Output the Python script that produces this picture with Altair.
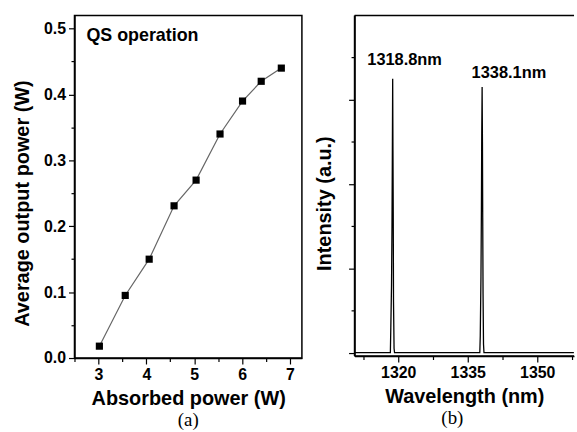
import altair as alt
import pandas as pd

# (a) Q-switched output power versus absorbed pump power
absorbed = [3.02, 3.56, 4.06, 4.58, 5.04, 5.54, 6.01, 6.40, 6.82]
output = [0.018, 0.095, 0.150, 0.231, 0.270, 0.340, 0.390, 0.420, 0.440]

# (b) emission spectrum, two lines
wavelength = [1310.6, 1318.3, 1318.4, 1318.55, 1318.65, 1318.72, 1318.8, 1318.86,
              1318.92, 1318.98, 1319.1, 1319.2, 1337.6, 1337.7, 1337.85, 1337.95,
              1338.02, 1338.1, 1338.17, 1338.23, 1338.3, 1338.4, 1338.5, 1357.9]
intensity = [0, 0, 0.6, 1.6, 3.0, 4.5, 6.5, 4.8, 3.3, 1.2, 0.1, 0,
             0, 0.4, 1.8, 3.5, 5.2, 6.3, 5.0, 3.2, 1.4, 0.2, 0, 0]

peak_wl = [1318.8, 1338.1]
peak_int = [6.5, 6.3]
peak_text = ["1318.8nm", "1338.1nm"]

x_ticks_a = [2.5, 3, 3.5, 4, 4.5, 5, 5.5, 6, 6.5, 7]
y_ticks_a = [0, 0.05, 0.1, 0.15, 0.2, 0.25, 0.3, 0.35, 0.4, 0.45, 0.5]
x_ticks_b = [1312.5, 1320, 1327.5, 1335, 1342.5, 1350, 1357.5]
y_ticks_b = [0, 1, 2, 3, 4, 5, 6, 7]

# axis ranges of panel (b)
XB_MIN, XB_MAX = 1310.57, 1357.93
YB_MIN, YB_MAX = -0.08, 8.0

SANS = "Liberation Sans"
SERIF = "Liberation Serif"


def tick_len(test):
    return {"condition": {"test": test, "value": 6}, "value": 3.5}


power_df = pd.DataFrame({"absorbed": absorbed, "output": output})
spec_df = pd.DataFrame({"wavelength": wavelength, "intensity": intensity})
peaks_df = pd.DataFrame({"wavelength": peak_wl, "intensity": peak_int, "text": peak_text})

# ---- panel (a) ----
xa_major = "datum.value % 1 === 0"
ya_major = "round(datum.value * 20) % 2 === 0"

xa = alt.X(
    "absorbed:Q",
    scale=alt.Scale(domain=[2.5, 7.25], nice=False, zero=False),
    axis=alt.Axis(values=x_ticks_a, format=".0f",
                  labelExpr=f"{xa_major} ? datum.label : ''",
                  tickSize=tick_len(xa_major),
                  title="Absorbed power (W)", titlePadding=6),
)
ya = alt.Y(
    "output:Q",
    scale=alt.Scale(domain=[0, 0.52], nice=False),
    axis=alt.Axis(values=y_ticks_a, format=".1f",
                  labelExpr=f"{ya_major} ? datum.label : ''",
                  tickSize=tick_len(ya_major),
                  title="Average output power (W)", titleLimit=400,
                  titleX=-52, titleY=189, titleAngle=-90,
                  titleAlign="center", titleBaseline="middle"),
)

base_a = alt.Chart(power_df)
line_a = base_a.mark_line(color="#666666", strokeWidth=1.2).encode(x=xa, y=ya)
pts_a = base_a.mark_square(size=52, color="black", opacity=1).encode(x=xa, y=ya)
label_a = alt.Chart(pd.DataFrame({"t": ["QS operation"]})).mark_text(
    font=SANS, fontSize=18, fontWeight="bold", align="left", baseline="middle", color="black"
).encode(x=alt.value(12), y=alt.value(21), text="t:N")

panel_a = alt.layer(line_a, pts_a, label_a).properties(
    width=229, height=345,
    view=alt.ViewBackground(stroke="black", strokeWidth=1.5),
    title=alt.TitleParams("(a)", orient="bottom", font=SERIF, fontSize=19,
                          fontWeight="normal", color="black", offset=2, anchor="middle"),
)

# ---- panel (b) ----
xb_major = "datum.value % 15 === 0"
yb_major = "datum.value % 2 === 0"
xb_scale = alt.Scale(domain=[XB_MIN, XB_MAX], nice=False, zero=False)
yb_scale = alt.Scale(domain=[YB_MIN, YB_MAX], nice=False)

xb = alt.X(
    "wavelength:Q", scale=xb_scale,
    axis=alt.Axis(values=x_ticks_b, format=".0f",
                  labelExpr=f"{xb_major} ? datum.label : ''",
                  tickSize=tick_len(xb_major),
                  title="Wavelength (nm)", titlePadding=6),
)
yb = alt.Y(
    "intensity:Q", scale=yb_scale,
    axis=alt.Axis(values=y_ticks_b, labels=False,
                  tickSize=tick_len(yb_major),
                  title="Intensity (a.u.)", titleLimit=400,
                  titleX=-30.5, titleY=189, titleAngle=-90,
                  titleAlign="center", titleBaseline="middle"),
)

spec_line = alt.Chart(spec_df).mark_line(color="black", strokeWidth=1.3).encode(x=xb, y=yb)

peak_style = dict(font=SANS, fontSize=16.5, fontWeight="bold", baseline="middle", color="black")
px = alt.X("wavelength:Q", scale=xb_scale, axis=None)
py = alt.Y("intensity:Q", scale=yb_scale, axis=None)
peak1 = alt.Chart(peaks_df.iloc[[0]]).mark_text(dx=12, dy=-19, **peak_style).encode(
    x=px, y=py, text="text:N")
peak2 = alt.Chart(peaks_df.iloc[[1]]).mark_text(dx=27, dy=-14, **peak_style).encode(
    x=px, y=py, text="text:N")

# open frame of panel (b): left, bottom and top sides at the axis limits
one_row = pd.DataFrame({"edge": [0]})
frame_style = dict(color="black", strokeWidth=1.5)


def xd(v):
    return alt.XDatum(v, type="quantitative", scale=xb_scale, axis=None)


def yd(v):
    return alt.YDatum(v, type="quantitative", scale=yb_scale, axis=None)


left_side = alt.Chart(one_row).mark_rule(**frame_style).encode(
    x=xd(XB_MIN), y=yd(YB_MIN), y2=alt.Y2Datum(YB_MAX))
bottom_side = alt.Chart(one_row).mark_rule(**frame_style).encode(
    x=xd(XB_MIN), x2=alt.X2Datum(XB_MAX), y=yd(YB_MIN))
top_side = alt.Chart(one_row).mark_rule(**frame_style).encode(
    x=xd(XB_MIN), x2=alt.X2Datum(XB_MAX), y=yd(YB_MAX))

panel_b = alt.layer(spec_line, peak1, peak2, left_side, bottom_side, top_side).resolve_axis(
    x="independent", y="independent"
).properties(
    width=221, height=343,
    view=alt.ViewBackground(stroke="transparent"),
    title=alt.TitleParams("(b)", orient="bottom", font=SERIF, fontSize=19,
                          fontWeight="normal", color="black", offset=2, anchor="middle", dx=-12),
)

chart = alt.hconcat(panel_a, panel_b, spacing=53, bounds="flush").properties(
    padding={"left": 12, "top": 12, "right": 0, "bottom": 3},
    background="white",
).configure_axis(
    grid=False,
    domainColor="black", domainWidth=1.5,
    tickColor="black", tickWidth=1.2, labelPadding=3,
    labelFont=SANS, labelFontSize=16, labelFontWeight="bold", labelColor="black",
    titleFont=SANS, titleFontSize=20, titleFontWeight="bold", titleColor="black",
)

chart.save("out.html", embed_options={"renderer": "svg", "actions": False})
